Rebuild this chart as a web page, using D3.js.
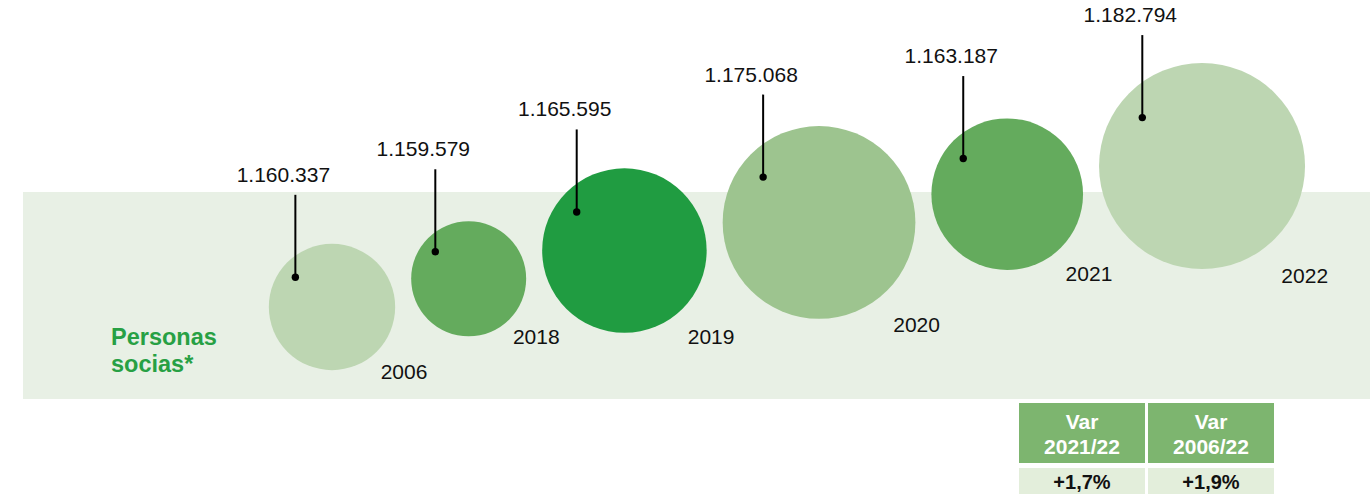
<!DOCTYPE html>
<html>
<head>
<meta charset="utf-8">
<script src="https://cdn.jsdelivr.net/npm/d3@7"></script>
<style>
  body { margin: 0; background: #fff; overflow: hidden; }
  text { font-family: "Liberation Sans", Arial, Helvetica, sans-serif; }
</style>
</head>
<body>
<div id="svgContainer"></div>
<script>
// data
var years = ["2006", "2018", "2019", "2020", "2021", "2022"];
var socios = [1160337, 1159579, 1165595, 1175068, 1163187, 1182794];
var varPairs = [["2021", "2022"], ["2006", "2022"]];

// look
var palette = ["#bdd6b2", "#64ab5d", "#209c41", "#9dc48f", "#64ab5d", "#bdd6b2"];

var width = 1370;
var height = 494;
var svg = d3.select("#svgContainer")
  .append("svg").attr("id", "svg").attr("width", width).attr("height", height);

var es = d3.formatLocale({ decimal: ",", thousands: ".", grouping: [3], currency: ["", "€"] });
var fmtNum = es.format(",d");
var fmtPct = es.format("+.1f");

var band = { x: 23, y: 192, w: width - 23, h: 207 };
var gap = 16;
var firstX = 332;

// bubble size grows with value (offset so small differences still read)
var base = 1157500;
var r = d3.scaleLog()
  .domain([d3.min(socios) - base, d3.max(socios) - base])
  .range([57.5, 103]);

var color = d3.scaleOrdinal().domain(years).range(palette);

// bubbles climb from left to right
var y = d3.scaleLinear().domain([0, years.length - 1]).range([307, 166]);

var bubbles = years.map(function(yr, i) {
  return { year: yr, value: socios[i], r: r(socios[i] - base), cy: y(i) };
});
// pack along x: each circle sits a fixed gap after the previous one
bubbles.forEach(function(b, i) {
  b.cx = i === 0 ? firstX : bubbles[i - 1].cx + bubbles[i - 1].r + gap + b.r;
});

drawBand(svg);
drawBubbles(svg, bubbles);
drawCallouts(svg, bubbles);
drawYears(svg, bubbles);
drawTitle(svg);
drawTable(svg);

function line(svg, c, color="#000", strokeWidth=2) {
  svg.append("line")
    .attr("x1", c.x1).attr("y1", c.y1)
    .attr("x2", c.x2).attr("y2", c.y2)
    .style("stroke", color)
    .style("stroke-width", strokeWidth);
}

function text(svg, c, t, size=21, anchor="middle", weight="normal", fill="#111") {
  return svg.append("text")
    .attr("x", c.x1)
    .attr("y", c.y1)
    .attr("text-anchor", anchor)
    .attr("font-size", size)
    .attr("font-weight", weight)
    .attr("fill", fill)
    .text(t);
}

function drawBand(svg) {
  svg.append("rect")
    .attr("x", band.x).attr("y", band.y)
    .attr("width", band.w).attr("height", band.h)
    .attr("fill", "#e8f0e5");
}

function drawBubbles(svg, data) {
  svg.selectAll("circle.bubble")
    .data(data)
    .enter().append("circle")
    .attr("class", "bubble")
    .attr("cx", function(d) { return d.cx; })
    .attr("cy", function(d) { return d.cy; })
    .attr("r", function(d) { return d.r; })
    .attr("fill", function(d) { return color(d.year); });
}

function drawCallouts(svg, data) {
  var lineLength = 82.5;
  data.forEach(function(d) {
    var dot = { x: d.cx - 0.58 * d.r, y: d.cy - 0.47 * d.r };
    line(svg, { x1: dot.x, y1: dot.y, x2: dot.x, y2: dot.y - lineLength });
    svg.append("circle")
      .attr("cx", dot.x).attr("cy", dot.y).attr("r", 3.7)
      .attr("fill", "#000");
    text(svg, { x1: dot.x - 12, y1: dot.y - lineLength - 13 }, fmtNum(d.value));
  });
}

function drawYears(svg, data) {
  data.forEach(function(d) {
    text(svg, { x1: d.cx + 0.77 * d.r, y1: d.cy + 1.14 * d.r }, d.year, 21, "start");
  });
}

function drawTitle(svg) {
  var g = "#27a044";
  text(svg, { x1: 111, y1: 345 }, "Personas", 23.5, "start", "bold", g);
  text(svg, { x1: 111, y1: 372 }, "socias*", 23.5, "start", "bold", g);
}

function drawTable(svg) {
  var cellW = 126;
  var x0 = 1019;
  var step = 129;
  varPairs.forEach(function(p, i) {
    var a = socios[years.indexOf(p[0])];
    var b = socios[years.indexOf(p[1])];
    var pct = (b / a - 1) * 100;
    var x = x0 + i * step;
    svg.append("rect")
      .attr("x", x).attr("y", 403).attr("width", cellW).attr("height", 60)
      .attr("fill", "#7db56f");
    svg.append("rect")
      .attr("x", x).attr("y", 468).attr("width", cellW).attr("height", 30)
      .attr("fill", "#e3eedb");
    var cx = x + cellW / 2;
    text(svg, { x1: cx, y1: 429 }, "Var", 21, "middle", "bold", "#fff");
    text(svg, { x1: cx, y1: 454 }, p[0] + "/" + p[1].slice(2), 21, "middle", "bold", "#fff");
    text(svg, { x1: cx, y1: 489 }, fmtPct(pct) + "%", 20, "middle", "bold", "#111");
  });
}
</script>
</body>
</html>
